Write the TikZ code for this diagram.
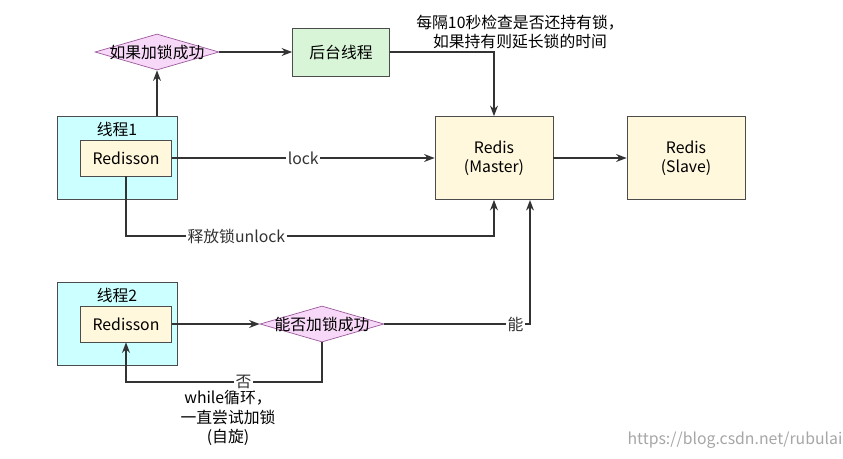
\documentclass[tikz,border=0pt]{standalone}
\usepackage{fontspec}
\setmainfont{Noto Sans CJK SC}
\usetikzlibrary{shapes.geometric, arrows.meta, positioning}
\definecolor{thrfill}{HTML}{CCFFFF}
\definecolor{redfill}{HTML}{FFF8DC}
\definecolor{bgfill}{HTML}{D8F5D8}
\definecolor{dmfill}{HTML}{F8D8F8}
\definecolor{dmdraw}{HTML}{9A5A9A}
\begin{document}
\begin{tikzpicture}[x=0.02cm,y=-0.02cm, font=\small]

\tikzset{box/.style = {draw=black!70, minimum width=#1}}
\tikzset{thread/.style = {box, fill=thrfill, minimum width=2.4cm, minimum height=1.66cm}}
\tikzset{client/.style = {box, fill=redfill, minimum width=1.82cm, minimum height=0.72cm}}
\tikzset{redis/.style = {box, fill=redfill, minimum width=2.36cm, minimum height=1.66cm, align=center}}
\tikzset{decide/.style = {diamond, shape aspect=3.4, draw=dmdraw, fill=dmfill, inner xsep=-12pt, inner ysep=0pt, minimum width=2.48cm, minimum height=0.72cm}}
\tikzset{edge/.style = {-{Stealth[length=6pt]}, thick, black!80}}
\tikzset{lbl/.style = {fill=white, inner sep=1pt}}
\useasboundingbox (0,0) rectangle (843,458);
% nodes
\node[thread] (t1) at (117,158) {};
\node[anchor=north] at (t1.north) {线程1};
\node[client] (r1) at (126,158) {Redisson};
\node[thread] (t2) at (117,324) {};
\node[anchor=north] at (t2.north) {线程2};
\node[client] (r2) at (126,324) {Redisson};
\node[decide] (d1) at (157,52) {如果加锁成功};
\node[box, fill=bgfill, minimum width=1.94cm, minimum height=0.96cm] (bg) at (341,52) {后台线程};
\node[redis] (m) at (494,158) {Redis\\(Master)};
\node[redis] (s) at (686,158) {Redis\\(Slave)};
\node[decide] (d2) at (322,324) {能否加锁成功};
\node[align=center, font=\small] (note) at (520,32) {每隔10秒检查是否还持有锁，\\如果持有则延长锁的时间};
\node[align=center] (wl) at (228,418) {while循环，\\一直尝试加锁\\(自旋)};
\node[text=black!35] (wm) at (735,440) {https://blog.csdn.net/rubulai};
%edges
\draw[edge] (t1.north -| d1) -- (d1.south);
\draw[edge] (d1) -- (bg);
\draw[edge] (bg.east) -| (m.north);
\draw[edge] (r1) -- node[lbl] {lock} (m);
\draw[edge] (r1.south) |- (494,236) node[lbl, pos=0.65] {释放锁unlock} -- (m.south);
\draw[edge] (m) -- (s);
\draw[edge] (r2) -- (d2);
\draw[edge] (d2.east) -| node[lbl, pos=0.45] {能} (530,200);
\draw[edge] (d2.south) |- (126,382) node[lbl, pos=0.7] {否} -- (r2.south);

\end{tikzpicture}
\end{document}
